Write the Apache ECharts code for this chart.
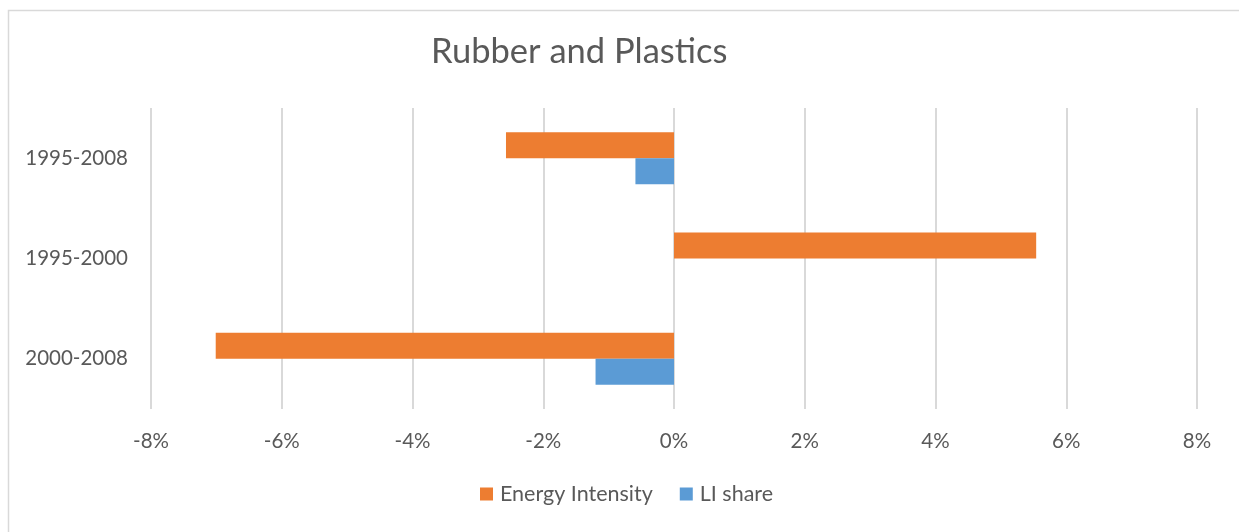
<!DOCTYPE html>
<html>
<head>
<meta charset="utf-8">
<script src="https://cdn.jsdelivr.net/npm/echarts@6/dist/echarts.min.js"></script>
<style>
  html, body { margin: 0; padding: 0; background: #fff; }
  #chart { width: 1239px; height: 532px; }
</style>
</head>
<body>
<div id="chart"></div>
<script>
// Periods, top to bottom
const categories = ['1995-2008', '1995-2000', '2000-2008'];
// Average annual change, percent
const energyIntensity = [-2.57, 5.54, -7.01];
const liShare = [-0.59, 0, -1.20];
const xTicks = [-8, -6, -4, -2, 0, 2, 4, 6, 8];

const FONT = 'Lato, "Liberation Sans", sans-serif';
const TXT = '#595959';

const chart = echarts.init(document.getElementById('chart'), null, { renderer: 'canvas' });
chart.setOption({
  backgroundColor: '#ffffff',
  animation: false,
  graphic: [{
    type: 'rect',
    left: 6, top: 8,
    shape: { width: 1300, height: 600 },
    style: { fill: 'none', stroke: '#d9d9d9', lineWidth: 1.5 },
    silent: true
  }],
  title: {
    text: 'Rubber and Plastics',
    left: 426, top: 29,
    textStyle: { fontFamily: FONT, fontSize: 34.5, fontWeight: 'normal', color: TXT }
  },
  legend: {
    bottom: 22, left: 475,
    itemWidth: 13, itemHeight: 13, itemGap: 27,
    icon: 'rect',
    textStyle: { fontFamily: FONT, fontSize: 21.5, color: TXT, padding: [0, 0, 0, 2] },
    data: ['Energy Intensity', 'LI share']
  },
  grid: { left: 151, right: 42, top: 108, bottom: 123, containLabel: false },
  xAxis: {
    type: 'value',
    min: xTicks[0], max: xTicks[xTicks.length - 1], interval: 2,
    axisLine: { show: false },
    axisTick: { show: false },
    axisLabel: {
      margin: 22,
      fontFamily: FONT, fontSize: 20.5, color: TXT,
      formatter: v => v + '%'
    },
    splitLine: { lineStyle: { color: '#d9d9d9', width: 2 } }
  },
  yAxis: {
    type: 'category',
    inverse: true,
    data: categories,
    axisLine: { show: false },
    axisTick: { show: false },
    axisLabel: { margin: 23, fontFamily: FONT, fontSize: 20.5, color: TXT }
  },
  series: [
    {
      name: 'Energy Intensity', type: 'bar',
      data: energyIntensity,
      barWidth: 26, barGap: '0%',
      itemStyle: { color: '#ed7d31' }
    },
    {
      name: 'LI share', type: 'bar',
      data: liShare,
      barWidth: 26, barGap: '0%',
      itemStyle: { color: '#5b9bd5' }
    }
  ]
});
</script>
</body>
</html>
